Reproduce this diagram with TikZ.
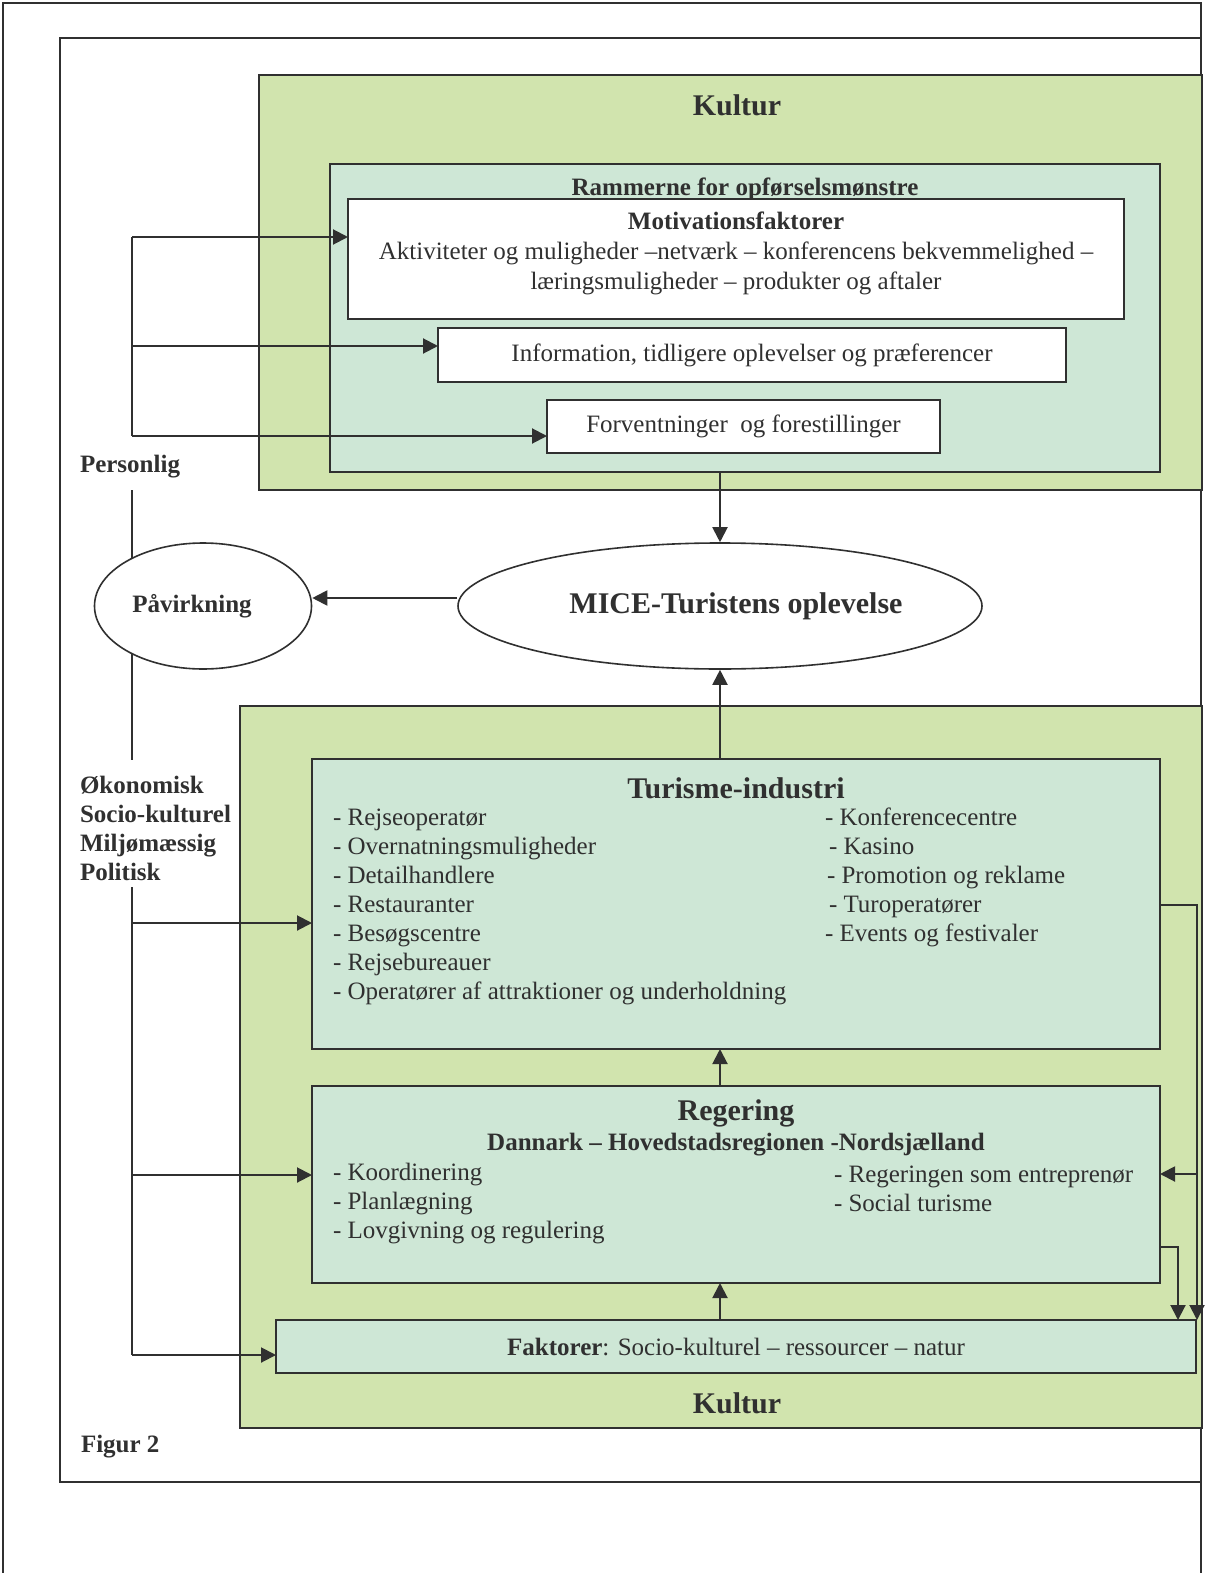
\documentclass[tikz,border=0pt]{standalone}
\usepackage{fontspec}
\setmainfont{Liberation Serif}
\usetikzlibrary{arrows.meta,shapes.geometric}
\definecolor{kulturgreen}{RGB}{209,228,174}
\definecolor{rammeteal}{RGB}{206,231,214}
\definecolor{linegray}{RGB}{48,48,48}
\newcommand{\fsbody}{\fontsize{12.5}{14.5}\selectfont}
\newcommand{\fstitle}{\fontsize{15}{18}\selectfont\bfseries}

\begin{document}
\begin{tikzpicture}[x=0.5pt,y=-0.5pt,>={Triangle[length=7.5pt,width=7.5pt]},
  color=linegray,font=\fsbody,line width=1pt,
  box/.style={draw,inner sep=0pt,outer sep=0pt,anchor=north west},
  titlefont/.style={font=\fstitle},
  boldfont/.style={font=\fsbody\bfseries},
  listtext/.style={font=\fsbody,align=left,anchor=west,inner sep=0pt},
  oval/.style={ellipse,draw,fill=white,line width=0.8pt,inner sep=0pt,minimum height=63pt}]
\useasboundingbox (0,0) rectangle (1204,1573);
\fill[white] (0,0) rectangle (1204,1573);
% frames
\draw[line width=0.8pt] (3,1573) -- (3,3) -- (1201,3) -- (1201,1573);
\draw[line width=0.8pt] (60,38) rectangle (1201,1482);
% upper block
\node[box,fill=kulturgreen,minimum width=471.5pt,minimum height=207.5pt] (kulturtop) at (259,75) {};
\node[titlefont] (kulturtoplbl) at (737,105) {Kultur};
\node[box,fill=rammeteal,minimum width=415pt,minimum height=154pt] (ramme) at (330,164) {};
\node[boldfont] (rammelbl) at (745,189) {Rammerne for opførselsmønstre};
\node[box,fill=white,minimum width=388pt,minimum height=60pt] (motiv) at (348,199) {};
\node[font=\fontsize{12.5}{15}\selectfont,align=center] (motivlbl) at (736,253)
  {\textbf{Motivationsfaktorer}\\Aktiviteter og muligheder –netværk – konferencens bekvemmelighed –\\læringsmuligheder – produkter og aftaler};
\node[box,fill=white,minimum width=314pt,minimum height=27pt] (info) at (438,328) {Information, tidligere oplevelser og præferencer};
\node[box,fill=white,minimum width=196.5pt,minimum height=26.5pt] (forv) at (547,400) {Forventninger\ \ og forestillinger};
% lower block
\node[box,fill=kulturgreen,minimum width=481pt,minimum height=361pt] (kulturbot) at (240,706) {};
\node[titlefont] (kulturbotlbl) at (737,1403) {Kultur};
\node[box,fill=rammeteal,minimum width=424pt,minimum height=145pt] (turisme) at (312,759) {};
\node[titlefont] (turismelbl) at (736,788) {Turisme-industri};
\node[listtext] (turismeA) at (332,906.5) {- Rejseoperatør\\- Overnatningsmuligheder\\- Detailhandlere\\- Restauranter\\- Besøgscentre\\- Rejsebureauer\\- Operatører af attraktioner og underholdning};
\node[listtext] (turismeB) at (824,877.5) {- Konferencecentre\\\hspace*{2pt}- Kasino\\\hspace*{1pt}- Promotion og reklame\\\hspace*{2pt}- Turoperatører\\- Events og festivaler};
\node[box,fill=rammeteal,minimum width=424pt,minimum height=98.5pt] (regering) at (312,1086) {};
\node[titlefont] (regeringlbl) at (736,1113) {Regering};
\node[boldfont] (regionlbl) at (736,1145) {Dannark – Hovedstadsregionen -Nordsjælland};
\node[listtext] (regeringA) at (332,1203.5) {- Koordinering\\- Planlægning\\- Lovgivning og regulering};
\node[listtext] (regeringB) at (833,1189) {- Regeringen som entreprenør\\- Social turisme};
\node[box,fill=rammeteal,minimum width=460pt,minimum height=26.5pt] (faktorer) at (276,1320) {\textbf{Faktorer}: Socio-kulturel – ressourcer – natur};
% side labels
\node[boldfont,anchor=west,inner sep=0pt] (personlig) at (79,467) {Personlig};
\node[boldfont,anchor=west,align=left,inner sep=0pt] (effekter) at (79,828) {Økonomisk\\Socio-kulturel\\Miljømæssig\\Politisk};
\node[boldfont,anchor=west,inner sep=0pt] (figur) at (80,1447) {Figur 2};
% left spine
\coordinate (s1) at (132,237);
\coordinate (s2) at (132,346);
\coordinate (s3) at (132,436);
\coordinate (s4) at (132,923);
\coordinate (s5) at (132,1175);
\coordinate (s6) at (132,1355);
\coordinate (gapA) at (132,490);
\coordinate (gapB) at (132,760);
\coordinate (gapC) at (132,887);
\draw (s1) -- (s3);
\draw (gapA) -- (gapB);
\draw (gapC) -- (s6);
% ovals
\node[oval,minimum width=262pt,titlefont] (mice) at (720,606) {\hspace*{16pt}MICE-Turistens oplevelse};
\node[oval,minimum width=108.5pt,boldfont] (pavirk) at (203,606) {Påvirkning\hspace*{11pt}};
% connectors
\draw[->] (s1) -- (s1 -| motiv.west);
\draw[->] (s2) -- (s2 -| info.west);
\draw[->] (s3) -- (s3 -| forv.west);
\draw[->] (s4) -- (s4 -| turisme.west);
\draw[->] (s5) -- (s5 -| regering.west);
\draw[->] (s6) -- (s6 -| faktorer.west);
\draw[->] (ramme.south -| mice.north) -- (mice.north);
\draw[->] ([yshift=4pt]mice.west) -- ([yshift=4pt]pavirk.east);
\draw[->] (turisme.north -| mice.south) -- (mice.south);
\draw[->] (regering.north -| mice.south) -- (turisme.south -| mice.south);
\draw[->] (faktorer.north -| mice.south) -- (regering.south -| mice.south);
\coordinate (r1) at (1197,905);
\coordinate (r2) at (1178,1247);
\coordinate (r3) at (1197,1174);
\draw[->] (turisme.east |- r1) -- (r1) -- (r1 |- faktorer.north);
\draw[->] (r3) -- (r3 -| regering.east);
\draw[->] (regering.east |- r2) -- (r2) -- (r2 |- faktorer.north);
\end{tikzpicture}
\end{document}
